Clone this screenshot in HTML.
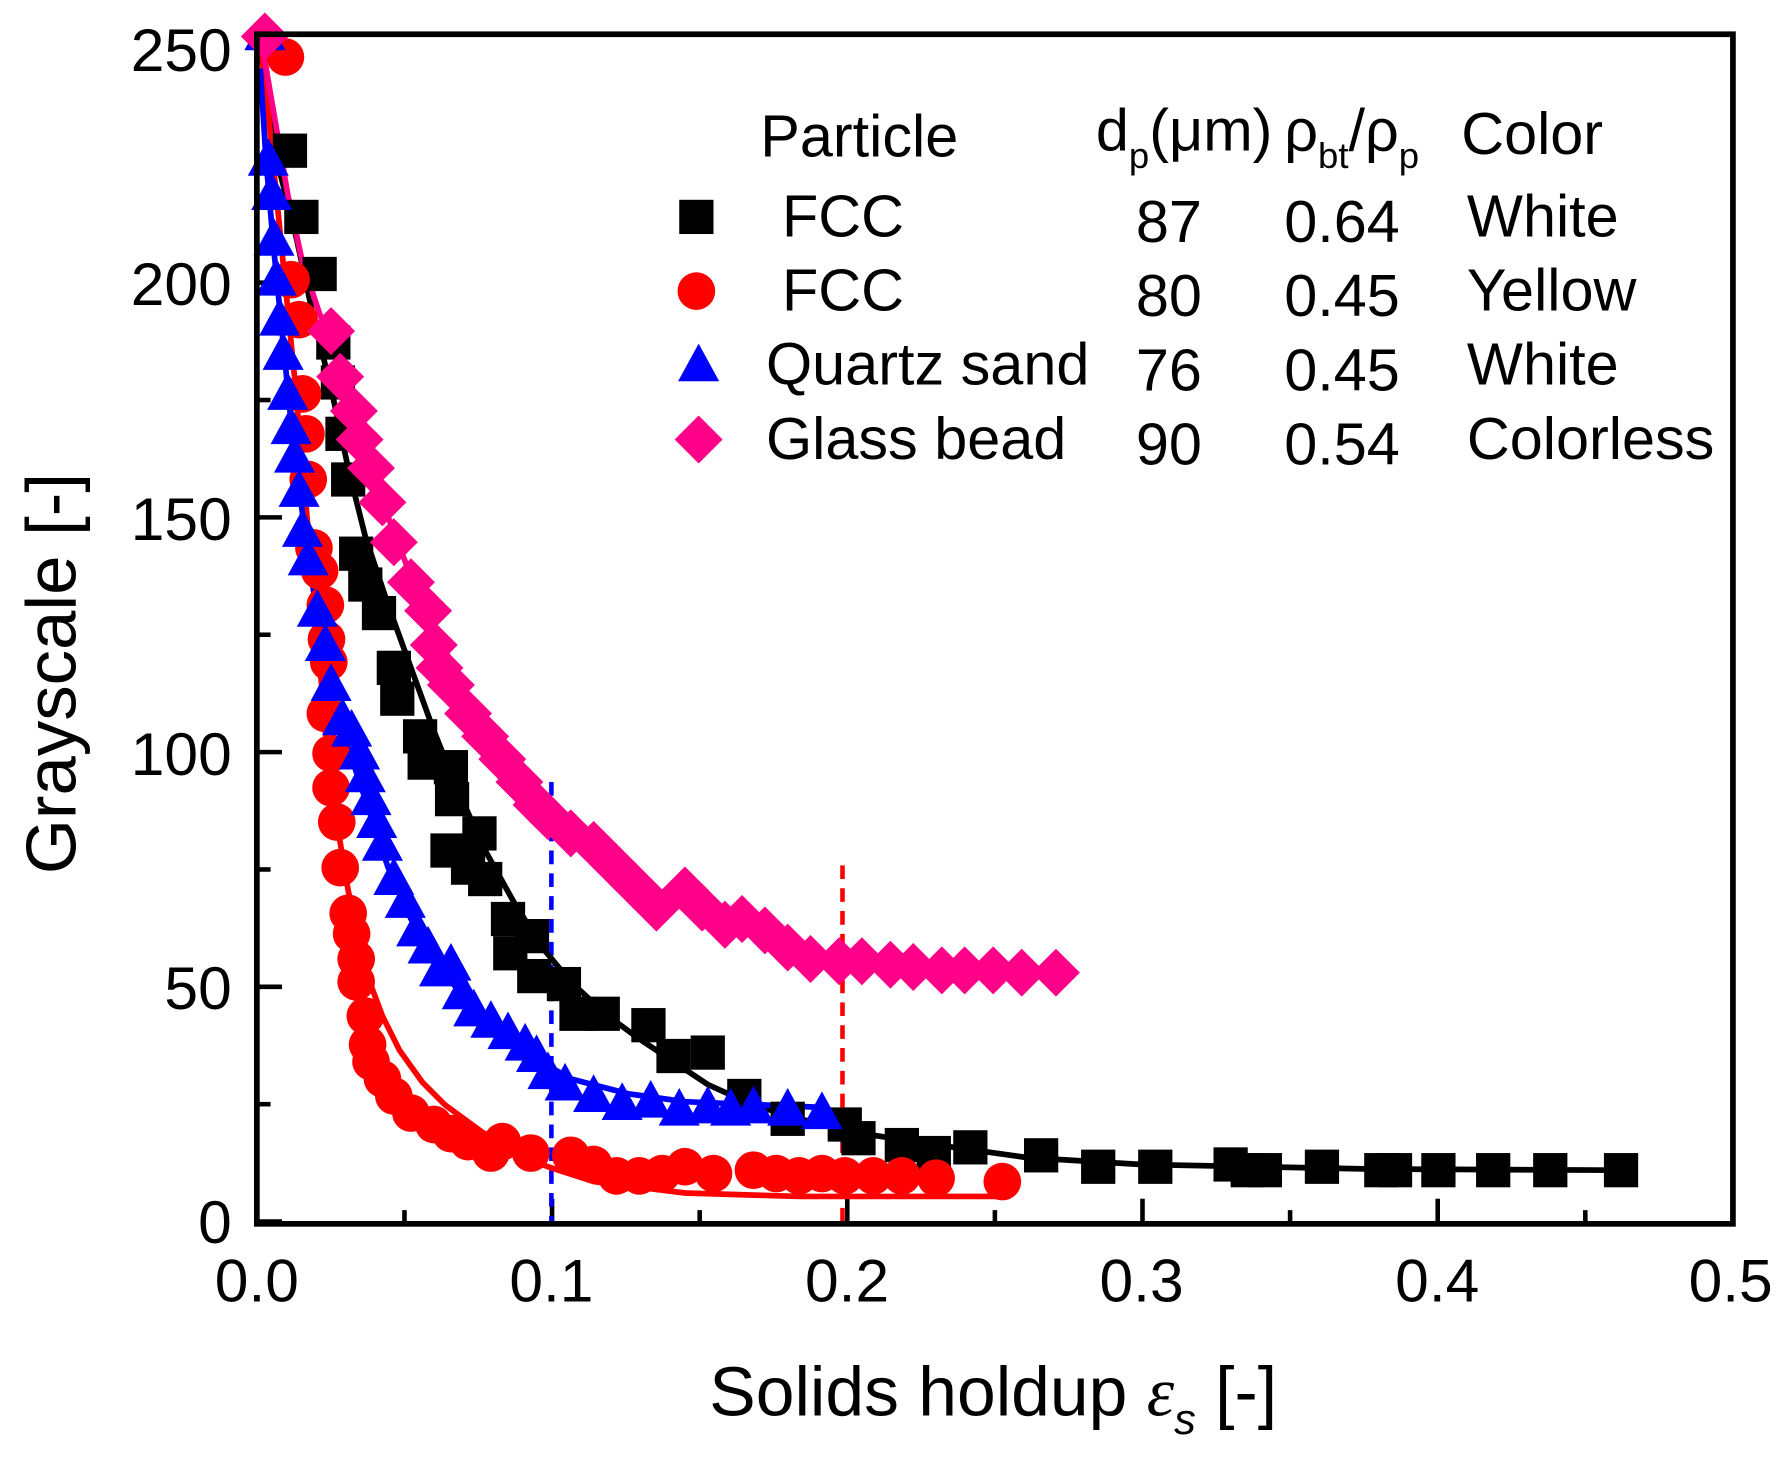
<!DOCTYPE html>
<html><head><meta charset="utf-8"><style>html,body{margin:0;padding:0;background:#fff}svg{display:block}</style></head>
<body>
<svg id="s" width="1790" height="1467" viewBox="0 0 1568 1285" preserveAspectRatio="none" xmlns="http://www.w3.org/2000/svg" font-family="Liberation Sans, sans-serif">
<rect width="1568" height="1285" fill="#fff"/>
<g id="g"></g>
<rect x="225" y="30" width="1293" height="1042" fill="none" stroke="#000" stroke-width="5"/>
<g fill="#000" font-size="53" text-anchor="end">
<text x="203" y="1089">0</text><text x="203" y="884">50</text><text x="203" y="679">100</text>
<text x="203" y="473">150</text><text x="203" y="267">200</text><text x="203" y="62">250</text>
</g>
<g fill="#000" font-size="53" text-anchor="middle">
<text x="225" y="1140">0.0</text><text x="483" y="1140">0.1</text><text x="742" y="1140">0.2</text>
<text x="1000" y="1140">0.3</text><text x="1259" y="1140">0.4</text><text x="1516" y="1140">0.5</text>
</g>
<text x="870" y="1240" font-size="61" text-anchor="middle">Solids holdup <tspan font-family="Liberation Serif, serif" font-style="italic">ε</tspan><tspan font-size="38" dy="16" font-style="italic">s</tspan><tspan dy="-16"> [-]</tspan></text>
<text transform="translate(66,590) rotate(-90)" font-size="62" text-anchor="middle">Grayscale [-]</text>
<g font-size="52" fill="#000">
<text x="666" y="137">Particle</text>
<text x="960" y="132">d<tspan font-size="32" dy="15">p</tspan><tspan dy="-15">(μm)</tspan></text>
<text x="1125" y="132">ρ<tspan font-size="32" dy="15">bt</tspan><tspan dy="-15">/ρ</tspan><tspan font-size="32" dy="15">p</tspan></text>
<text x="1280" y="135">Color</text>
<text x="685" y="207">FCC</text><text x="995" y="212">87</text><text x="1125" y="212">0.64</text><text x="1285" y="207">White</text>
<text x="685" y="272">FCC</text><text x="995" y="277">80</text><text x="1125" y="277">0.45</text><text x="1285" y="272">Yellow</text>
<text x="671" y="337">Quartz sand</text><text x="995" y="342">76</text><text x="1125" y="342">0.45</text><text x="1285" y="337">White</text>
<text x="671" y="402">Glass bead</text><text x="995" y="407">90</text><text x="1125" y="407">0.54</text><text x="1285" y="402">Colorless</text>
</g>
</svg>
<script>
const NS="http://www.w3.org/2000/svg",g=document.getElementById('g');
function el(t,a){const e=document.createElementNS(NS,t);for(const k in a)e.setAttribute(k,a[k]);g.appendChild(e);return e;}
for(let i=0;i<=10;i++){const y=1070-i*102.8;const L=i%2==0?22:12;el('line',{x1:225,y1:y,x2:225+L,y2:y,stroke:'#000','stroke-width':4});}
for(let i=0;i<=10;i++){const x=225+i*129.3;const L=i%2==0?22:12;el('line',{x1:x,y1:1072,x2:x,y2:1072-L,stroke:'#000','stroke-width':4});}
el('line',{x1:483,y1:685,x2:483,y2:1070,stroke:'#0000ff','stroke-width':4,'stroke-dasharray':'12,8'});
el('line',{x1:738,y1:758,x2:738,y2:1070,stroke:'#ff0000','stroke-width':4,'stroke-dasharray':'12,8'});
function curve(p,c){el('polyline',{points:p.map(q=>q.join(',')).join(' '),fill:'none',stroke:c,'stroke-width':5,'stroke-linejoin':'round'});}
function sq(x,y){el('rect',{x:x-15,y:y-15,width:30,height:30,fill:'#000'});}
function ci(x,y){el('circle',{cx:x,cy:y,r:16.5,fill:'#ff0000'});}
function tr(x,y){el('polygon',{points:`${x},${y-19} ${x-18},${y+14} ${x+18},${y+14}`,fill:'#0000ff'});}
function di(x,y){el('polygon',{points:`${x},${y-21} ${x+21},${y} ${x},${y+21} ${x-21},${y}`,fill:'#ff0088'});}
curve([[228,60],[245,150],[260,210],[275,280],[290,340],[305,410],[320,470],[340,530],[360,585],[380,640],[400,690],[425,745],[450,790],[475,830],[500,860],[530,888],[560,910],[590,930],[620,950],[660,968],[700,980],[750,992],[800,1000],[900,1014],[1000,1020],[1200,1024],[1420,1025]],'#000');
curve([[228,40],[235,100],[242,170],[250,250],[258,330],[266,420],[275,520],[285,640],[295,720],[305,780],[320,850],[335,890],[350,920],[370,948],[390,968],[420,990],[450,1010],[480,1022],[520,1035],[600,1045],[700,1048],[878,1048]],'#ff0000');
curve([[228,60],[233,140],[240,220],[248,300],[255,370],[265,450],[275,520],[288,585],[300,640],[320,700],[340,760],[360,805],[380,840],[405,872],[430,900],[465,925],[500,945],[550,958],[600,965],[720,970]],'#0000ff');
curve([[228,30],[240,100],[252,170],[265,230],[280,275],[295,310],[315,370],[335,440],[360,505],[385,560],[410,610],[440,660],[470,700],[500,730],[540,760],[580,785],[620,805],[660,820],[700,833],[750,842],[800,847],[860,850],[925,852]],'#ff0088');
[[254,132],[264,190],[280,240],[292,300],[296,335],[300,380],[305,420],[312,485],[320,512],[332,537],[345,585],[348,612],[368,645],[372,668],[395,672],[396,700],[392,745],[410,760],[420,730],[425,770],[445,805],[447,835],[466,820],[468,855],[494,862],[505,888],[528,888],[568,898],[590,925],[620,922],[652,960],[690,980],[740,985],[752,997],[790,1003],[818,1010],[850,1005],[912,1012],[962,1022],[1012,1022],[1078,1020],[1093,1025],[1108,1025],[1158,1022],[1210,1025],[1222,1025],[1260,1025],[1308,1025],[1358,1025],[1420,1025],[610,190]].forEach(p=>sq(...p));
[[250,50],[255,245],[262,280],[265,345],[268,380],[270,420],[275,480],[280,500],[285,530],[286,560],[288,580],[285,625],[290,660],[290,690],[295,720],[298,760],[305,800],[308,818],[312,840],[312,860],[320,890],[322,915],[325,930],[335,945],[345,960],[360,975],[380,985],[395,993],[410,1000],[430,1010],[440,1000],[465,1010],[500,1012],[520,1020],[540,1030],[560,1030],[580,1028],[600,1022],[625,1028],[660,1025],[680,1028],[700,1030],[720,1028],[740,1030],[765,1030],[790,1030],[820,1032],[878,1035],[610,255]].forEach(p=>ci(...p));
[[232,30],[235,140],[238,170],[240,210],[242,245],[245,280],[248,310],[252,345],[255,375],[258,400],[262,430],[265,465],[270,490],[278,535],[285,565],[290,600],[300,630],[308,640],[315,660],[320,680],[325,700],[330,720],[335,740],[345,770],[355,790],[365,815],[375,830],[385,850],[395,845],[405,870],[415,885],[430,895],[445,905],[460,915],[470,925],[480,940],[495,950],[520,960],[545,967],[570,965],[595,972],[620,970],[640,972],[660,970],[690,972],[720,975],[612,320]].forEach(p=>tr(...p));
[[232,32],[290,290],[298,330],[310,360],[315,385],[325,410],[335,440],[345,475],[360,510],[375,535],[380,565],[385,585],[395,600],[410,625],[425,645],[440,665],[455,685],[470,705],[480,715],[500,730],[520,740],[540,760],[555,775],[575,795],[600,780],[615,795],[635,810],[650,805],[670,815],[690,830],[710,840],[735,842],[755,842],[780,845],[800,847],[825,850],[845,850],[870,850],[895,852],[925,852],[612,385]].forEach(p=>di(...p));
</script>
</body></html>
